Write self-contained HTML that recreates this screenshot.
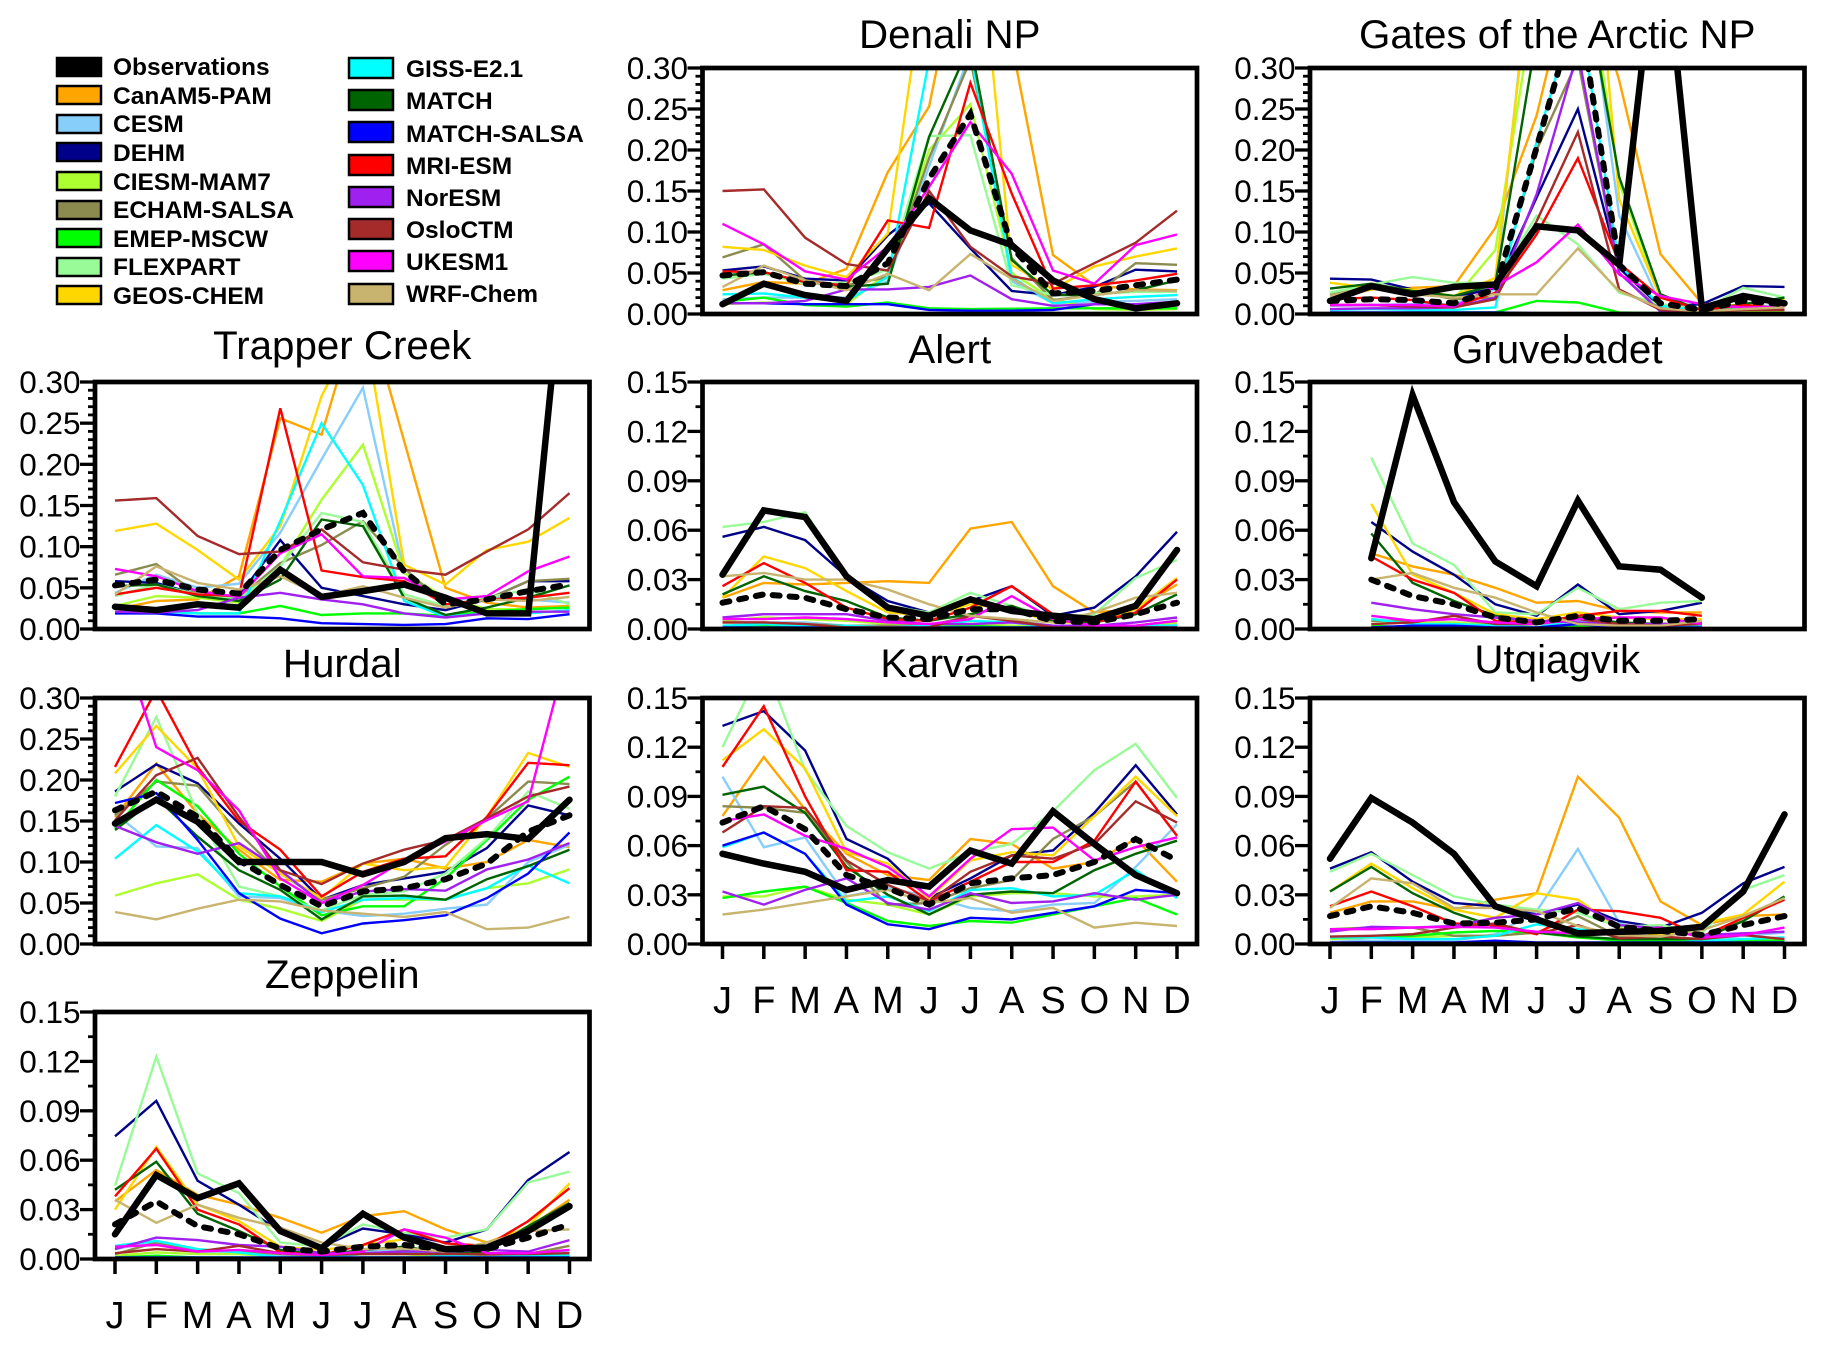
<!DOCTYPE html>
<html lang="en">
<head>
<meta charset="utf-8">
<title>Monthly model and observation comparison by station</title>
<style>
html,body{margin:0;padding:0;background:#fff;width:1825px;height:1348px;overflow:hidden}
svg{display:block}
text{font-family:"Liberation Sans",sans-serif;fill:#000}
.legend-label{font-weight:bold;font-size:24.5px}
.tick-label{font-size:31.5px;text-anchor:end}
.month-label{font-size:38px;text-anchor:middle}
.panel-title{font-size:40.3px;text-anchor:middle}
</style>
</head>
<body>
<svg id="chart" xmlns="http://www.w3.org/2000/svg" width="1825" height="1348" viewBox="0 0 1825 1348">
  <g stroke="#000" stroke-width="2.5">
    <g><rect x="57" y="58" width="44" height="18" fill="#000"/><text class="legend-label" stroke="none" x="113" y="75">Observations</text></g>
    <g><rect x="57" y="86" width="44" height="18" fill="#FFA500"/><text class="legend-label" stroke="none" x="113" y="104">CanAM5-PAM</text></g>
    <g><rect x="57" y="115" width="44" height="18" fill="#87CEFA"/><text class="legend-label" stroke="none" x="113" y="132">CESM</text></g>
    <g><rect x="57" y="143" width="44" height="18" fill="#00008B"/><text class="legend-label" stroke="none" x="113" y="161">DEHM</text></g>
    <g><rect x="57" y="172" width="44" height="18" fill="#ADFF2F"/><text class="legend-label" stroke="none" x="113" y="190">CIESM-MAM7</text></g>
    <g><rect x="57" y="201" width="44" height="18" fill="#8B8B50"/><text class="legend-label" stroke="none" x="113" y="218">ECHAM-SALSA</text></g>
    <g><rect x="57" y="229" width="44" height="18" fill="#00FF00"/><text class="legend-label" stroke="none" x="113" y="247">EMEP-MSCW</text></g>
    <g><rect x="57" y="258" width="44" height="18" fill="#98FB98"/><text class="legend-label" stroke="none" x="113" y="275">FLEXPART</text></g>
    <g><rect x="57" y="286" width="44" height="18" fill="#FFD700"/><text class="legend-label" stroke="none" x="113" y="304">GEOS-CHEM</text></g>
    <g><rect x="349" y="58" width="44" height="20" fill="#00FFFF"/><text class="legend-label" stroke="none" x="406" y="77">GISS-E2.1</text></g>
    <g><rect x="349" y="90" width="44" height="20" fill="#006400"/><text class="legend-label" stroke="none" x="406" y="109">MATCH</text></g>
    <g><rect x="349" y="122" width="44" height="20" fill="#0000FF"/><text class="legend-label" stroke="none" x="406" y="142">MATCH-SALSA</text></g>
    <g><rect x="349" y="155" width="44" height="20" fill="#FF0000"/><text class="legend-label" stroke="none" x="406" y="174">MRI-ESM</text></g>
    <g><rect x="349" y="187" width="44" height="20" fill="#A020F0"/><text class="legend-label" stroke="none" x="406" y="206">NorESM</text></g>
    <g><rect x="349" y="219" width="44" height="20" fill="#A52A2A"/><text class="legend-label" stroke="none" x="406" y="238">OsloCTM</text></g>
    <g><rect x="349" y="251" width="44" height="20" fill="#FF00FF"/><text class="legend-label" stroke="none" x="406" y="270">UKESM1</text></g>
    <g><rect x="349" y="284" width="44" height="20" fill="#C8B46E"/><text class="legend-label" stroke="none" x="406" y="302">WRF-Chem</text></g>
  </g>
</svg>
<script>
const months = ['J','F','M','A','M','J','J','A','S','O','N','D'];
const modelNames = ['CanAM5-PAM','CESM','DEHM','CIESM-MAM7','ECHAM-SALSA','EMEP-MSCW','FLEXPART','GEOS-CHEM','GISS-E2.1','MATCH','MATCH-SALSA','MRI-ESM','NorESM','OsloCTM','UKESM1','WRF-Chem'];
const ticksWide = [0,0.05,0.10,0.15,0.20,0.25,0.30];
const ticksWideLabels = ['0.00','0.05','0.10','0.15','0.20','0.25','0.30'];
const ticksNarrow = [0,0.03,0.06,0.09,0.12,0.15];
const ticksNarrowLabels = ['0.00','0.03','0.06','0.09','0.12','0.15'];

const denaliObs = [.012,.037,.023,.016,.08,.141,.102,.084,.041,.018,.007,.013];
const denaliMean = [.047,.051,.037,.034,.062,.165,.244,.082,.025,.028,.035,.042];
const denaliModels = [
 [.029,.039,.037,.055,.173,.253,.5,.33,.072,.035,.03,.029],
 [.018,.02,.02,.02,.04,.18,.32,.04,.013,.015,.016,.018],
 [.053,.058,.043,.041,.096,.135,.08,.028,.023,.033,.054,.052],
 [.012,.014,.012,.012,.05,.2,.256,.05,.018,.006,.005,.006],
 [.069,.085,.041,.035,.045,.19,.31,.068,.017,.023,.062,.06],
 [.015,.02,.011,.009,.014,.007,.006,.0065,.007,.007,.007,.007],
 [.043,.049,.037,.038,.054,.217,.218,.035,.023,.025,.027,.027],
 [.082,.078,.059,.045,.098,.447,.58,.06,.03,.058,.07,.08],
 [.024,.025,.02,.016,.045,.31,.32,.045,.013,.018,.021,.023],
 [.047,.051,.039,.033,.037,.216,.33,.066,.023,.023,.029,.041],
 [.013,.013,.012,.012,.012,.005,.004,.004,.005,.012,.012,.013],
 [.052,.051,.039,.035,.114,.105,.282,.147,.031,.035,.041,.049],
 [.013,.013,.016,.03,.03,.033,.047,.018,.01,.012,.012,.015],
 [.15,.152,.093,.061,.053,.15,.082,.046,.037,.062,.087,.126],
 [.11,.085,.052,.042,.082,.155,.234,.171,.053,.037,.084,.097],
 [.033,.059,.041,.029,.049,.029,.073,.043,.016,.023,.029,.028]
];

const gatesObs = [.016,.034,.024,.033,.036,.107,.102,.06,.5,.007,.022,.013];
const gatesMean = [.016,.018,.017,.013,.03,.203,.38,.06,.013,.005,.016,.012];
const gatesModels = [
 [.018,.03,.032,.034,.105,.242,.45,.285,.073,.013,.01,.007],
 [.01,.011,.012,.012,.03,.5,.5,.12,.012,.006,.01,.01],
 [.043,.042,.03,.02,.032,.142,.25,.056,.009,.012,.034,.033],
 [.026,.036,.028,.018,.078,.4,.5,.16,.02,.004,.004,.003],
 [.024,.037,.028,.018,.02,.2,.31,.05,.005,.004,.008,.006],
 [.001,.001,.002,.002,.002,.016,.014,.002,.001,.001,.001,.001],
 [.026,.036,.045,.038,.038,.12,.085,.026,.012,.005,.032,.02],
 [.038,.032,.03,.022,.044,.48,.7,.14,.02,.005,.012,.018],
 [.005,.006,.005,.005,.008,.21,.38,.06,.01,.004,.006,.008],
 [.031,.037,.028,.022,.036,.34,.45,.167,.024,.004,.012,.02],
 [.002,.002,.002,.002,.002,.001,.001,.001,.001,.001,.001,.001],
 [.018,.02,.017,.009,.026,.097,.19,.062,.02,.005,.011,.007],
 [.006,.007,.007,.008,.02,.146,.32,.05,.003,.003,.005,.006],
 [.011,.011,.009,.008,.018,.113,.222,.03,.005,.003,.005,.005],
 [.011,.011,.011,.009,.034,.063,.109,.048,.022,.012,.008,.009],
 [.022,.034,.024,.02,.024,.024,.08,.028,.007,.003,.006,.008]
];

const trapperObs = [.027,.023,.03,.026,.072,.039,.046,.054,.038,.019,.019,.52];
const trapperMean = [.053,.06,.048,.043,.096,.121,.141,.07,.03,.036,.046,.054];
const trapperModels = [
 [.024,.034,.036,.064,.256,.236,.406,.228,.05,.032,.026,.028],
 [.044,.066,.05,.055,.117,.206,.293,.068,.034,.04,.036,.032],
 [.058,.056,.042,.04,.108,.05,.04,.03,.023,.036,.058,.058],
 [.028,.04,.038,.032,.076,.157,.224,.068,.038,.024,.024,.026],
 [.066,.079,.042,.038,.08,.102,.131,.074,.028,.036,.058,.061],
 [.02,.022,.019,.019,.028,.017,.019,.019,.016,.021,.024,.026],
 [.04,.054,.042,.036,.076,.141,.13,.042,.028,.038,.048,.03],
 [.119,.128,.096,.06,.125,.283,.38,.078,.054,.096,.106,.135],
 [.02,.021,.019,.019,.131,.25,.175,.034,.015,.019,.019,.023],
 [.052,.054,.04,.034,.06,.133,.125,.038,.017,.026,.038,.053],
 [.019,.019,.015,.015,.013,.007,.006,.005,.006,.013,.012,.018],
 [.042,.05,.042,.04,.268,.071,.063,.058,.03,.036,.038,.044],
 [.021,.02,.023,.038,.044,.036,.03,.019,.014,.019,.021,.021],
 [.156,.159,.113,.091,.094,.121,.081,.072,.066,.094,.121,.165],
 [.073,.064,.046,.039,.092,.115,.064,.062,.036,.04,.07,.088],
 [.042,.076,.056,.048,.064,.04,.052,.038,.026,.036,.034,.039]
];

const alertObs = [.033,.072,.068,.032,.013,.008,.018,.011,.008,.006,.014,.048];
const alertMean = [.016,.021,.019,.012,.007,.006,.012,.012,.005,.004,.009,.016];
const alertModels = [
 [.019,.028,.027,.028,.029,.028,.061,.065,.026,.01,.012,.027],
 [.004,.004,.004,.002,.002,.002,.003,.002,.001,.001,.002,.003],
 [.056,.062,.054,.032,.017,.01,.017,.026,.008,.013,.032,.059],
 [.005,.007,.006,.005,.003,.002,.003,.002,.001,.001,.002,.004],
 [.004,.004,.003,.002,.002,.002,.008,.005,.002,.001,.002,.005],
 [.002,.002,.001,.001,.001,.001,.002,.001,.001,.001,.001,.002],
 [.062,.065,.071,.032,.014,.01,.022,.014,.007,.009,.031,.042],
 [.019,.044,.037,.023,.01,.008,.015,.012,.004,.004,.012,.031],
 [.002,.003,.002,.002,.001,.002,.005,.004,.001,.001,.002,.002],
 [.021,.032,.023,.017,.007,.005,.009,.014,.005,.004,.009,.021],
 [.001,.001,.001,.001,.001,.001,.001,.001,.001,.001,.001,.001],
 [.026,.04,.028,.013,.006,.005,.013,.026,.009,.004,.01,.03],
 [.007,.009,.009,.009,.005,.003,.003,.004,.002,.002,.004,.007],
 [.004,.004,.003,.001,.001,.001,.008,.005,.001,.001,.001,.001],
 [.006,.006,.007,.006,.004,.003,.006,.02,.006,.002,.002,.005],
 [.032,.034,.03,.03,.024,.015,.008,.006,.004,.01,.019,.022]
];

const gruvebadetObs = [null,.043,.142,.077,.041,.026,.078,.038,.036,.019,null,null];
const gruvebadetMean = [null,.03,.02,.015,.007,.004,.008,.005,.005,.006,null,null];
const gruvebadetModels = [
 [null,.046,.038,.033,.025,.016,.017,.011,.01,.01,null,null],
 [null,.006,.004,.004,.002,.001,.005,.002,.002,.002,null,null],
 [null,.065,.047,.033,.015,.008,.027,.009,.011,.016,null,null],
 [null,.005,.004,.004,.002,.001,.003,.002,.002,.002,null,null],
 [null,.005,.005,.006,.003,.001,.001,.002,.001,.003,null,null],
 [null,.002,.001,.002,.001,.001,.002,.001,.001,.001,null,null],
 [null,.104,.052,.039,.01,.009,.025,.012,.016,.017,null,null],
 [null,.076,.033,.022,.009,.006,.01,.007,.006,.006,null,null],
 [null,.006,.003,.003,.002,.001,.006,.003,.002,.002,null,null],
 [null,.058,.028,.017,.008,.004,.007,.004,.003,.004,null,null],
 [null,.001,.002,.002,.001,.001,.003,.001,.001,.001,null,null],
 [null,.044,.03,.022,.005,.004,.008,.011,.011,.008,null,null],
 [null,.016,.012,.009,.007,.005,.004,.003,.003,.004,null,null],
 [null,.003,.004,.008,.003,.003,.006,.003,.002,.003,null,null],
 [null,.008,.005,.006,.004,.003,.006,.007,.007,.003,null,null],
 [null,.03,.034,.025,.019,.01,.003,.002,.002,.005,null,null]
];

const hurdalObs = [.147,.176,.149,.1,.1,.1,.085,.1,.129,.134,.128,.176];
const hurdalMean = [.163,.186,.155,.102,.072,.046,.064,.068,.079,.098,.137,.157];
const hurdalModels = [
 [.155,.22,.159,.115,.078,.076,.098,.104,.092,.1,.127,.118],
 [.159,.119,.117,.058,.056,.041,.034,.037,.043,.048,.1,.121],
 [.186,.219,.196,.147,.104,.054,.072,.08,.088,.117,.169,.157],
 [.059,.074,.085,.054,.043,.028,.054,.054,.054,.068,.074,.091],
 [.157,.198,.193,.135,.086,.054,.068,.082,.121,.153,.198,.195],
 [.141,.2,.168,.11,.07,.035,.046,.046,.08,.127,.176,.204],
 [.18,.277,.159,.07,.058,.041,.06,.064,.086,.129,.186,.165],
 [.208,.266,.214,.119,.086,.056,.098,.09,.094,.155,.233,.216],
 [.104,.145,.113,.062,.058,.039,.054,.056,.054,.068,.096,.074],
 [.139,.178,.131,.09,.066,.03,.058,.059,.054,.079,.095,.115],
 [.172,.184,.127,.062,.031,.013,.025,.029,.035,.056,.086,.136],
 [.216,.31,.216,.15,.115,.058,.088,.104,.107,.155,.221,.218],
 [.144,.124,.11,.123,.09,.05,.064,.067,.065,.091,.103,.123],
 [.151,.206,.227,.155,.09,.073,.098,.115,.127,.153,.18,.192],
 [.395,.24,.212,.163,.08,.05,.072,.102,.125,.151,.174,.366],
 [.039,.03,.043,.054,.052,.041,.037,.033,.039,.018,.02,.033]
];

const karvatnObs = [.055,.049,.044,.033,.039,.035,.057,.049,.081,.061,.042,.031];
const karvatnMean = [.074,.084,.07,.042,.034,.024,.037,.04,.042,.05,.064,.051];
const karvatnModels = [
 [.078,.114,.082,.055,.042,.039,.064,.061,.046,.05,.064,.038],
 [.102,.059,.065,.029,.034,.029,.022,.02,.024,.025,.047,.073],
 [.133,.142,.118,.064,.052,.028,.04,.054,.057,.08,.109,.079],
 [.029,.029,.035,.027,.024,.018,.029,.031,.031,.029,.029,.03],
 [.084,.083,.08,.05,.024,.025,.034,.039,.064,.078,.099,.066],
 [.028,.032,.035,.025,.014,.011,.014,.013,.018,.023,.028,.018],
 [.12,.172,.106,.072,.056,.046,.056,.061,.081,.106,.122,.089],
 [.112,.131,.107,.056,.049,.028,.051,.056,.054,.078,.102,.078],
 [.059,.068,.055,.026,.029,.02,.033,.034,.029,.03,.045,.028],
 [.091,.096,.08,.047,.03,.018,.03,.032,.031,.045,.055,.063],
 [.06,.068,.055,.024,.012,.009,.016,.015,.019,.023,.033,.031],
 [.108,.145,.09,.045,.044,.026,.038,.05,.05,.063,.099,.066],
 [.032,.024,.033,.04,.025,.021,.031,.025,.026,.031,.027,.03],
 [.068,.084,.083,.051,.036,.026,.044,.054,.052,.061,.087,.074],
 [.075,.079,.066,.058,.047,.029,.052,.07,.071,.051,.059,.065],
 [.018,.021,.025,.029,.033,.025,.028,.019,.022,.01,.013,.011]
];

const utqiagvikObs = [.052,.089,.074,.055,.023,.015,.0065,.0075,.008,.0105,.032,.079];
const utqiagvikMean = [.017,.023,.019,.0125,.013,.015,.022,.0105,.008,.0055,.0115,.017];
const utqiagvikModels = [
 [.019,.026,.026,.021,.027,.031,.102,.077,.026,.0115,.017,.018],
 [.003,.002,.002,.002,.006,.02,.058,.013,.004,.002,.005,.007],
 [.046,.056,.038,.025,.023,.018,.024,.014,.01,.019,.037,.047],
 [.003,.004,.004,.005,.005,.007,.004,.003,.002,.002,.003,.003],
 [.009,.01,.01,.005,.005,.007,.017,.0045,.003,.003,.016,.028],
 [.004,.004,.005,.007,.008,.007,.004,.002,.002,.002,.002,.002],
 [.044,.055,.042,.029,.024,.021,.019,.0105,.0115,.0065,.033,.042],
 [.032,.049,.034,.021,.016,.031,.027,.0095,.005,.0125,.018,.038],
 [.004,.004,.003,.003,.005,.012,.009,.006,.004,.002,.003,.004],
 [.032,.047,.031,.019,.0105,.007,.0045,.003,.003,.003,.014,.029],
 [.001,.001,.001,.001,.002,.001,.001,.001,.001,.001,.001,.001],
 [.023,.032,.023,.0125,.0115,.006,.021,.02,.016,.0045,.016,.027],
 [.0075,.0105,.01,.011,.016,.018,.025,.0115,.0095,.0055,.0065,.0075],
 [.0045,.005,.006,.01,.0125,.0065,.0115,.0035,.0045,.003,.0055,.003],
 [.009,.009,.01,.0105,.01,.0075,.0065,.0075,.01,.004,.0055,.01],
 [.022,.04,.037,.022,.022,.02,.011,.0055,.0045,.0085,.017,.028]
];

const zeppelinObs = [.015,.051,.037,.046,.017,.0065,.0275,.013,.006,.007,.017,.032];
const zeppelinMean = [.021,.035,.02,.015,.0065,.0045,.0075,.0085,.006,.006,.013,.021];
const zeppelinModels = [
 [.035,.054,.039,.033,.025,.016,.026,.029,.018,.01,.019,.036],
 [.006,.011,.004,.004,.002,.002,.005,.006,.003,.001,.003,.004],
 [.0745,.096,.0475,.033,.017,.0075,.0185,.015,.01,.018,.048,.065],
 [.002,.004,.003,.003,.001,.001,.003,.003,.001,.001,.002,.002],
 [.003,.01,.005,.005,.003,.002,.003,.005,.002,.002,.003,.008],
 [.001,.002,.001,.001,0,0,.001,.001,.001,.001,.001,.001],
 [.0445,.123,.052,.04,.01,.0075,.021,.016,.013,.018,.0465,.053],
 [.03,.068,.033,.023,.0075,.0055,.0085,.012,.0065,.0075,.02,.046],
 [.008,.011,.006,.004,.001,.001,.003,.004,.002,.001,.002,.002],
 [.042,.059,.0275,.017,.0055,.0025,.0055,.0075,.0035,.0045,.02,.034],
 [.001,.001,.001,.001,.001,.001,.001,.001,.001,.001,.001,.001],
 [.038,.067,.03,.021,.004,.0025,.0085,.018,.0095,.008,.023,.043],
 [.006,.013,.0115,.0085,.0075,.0035,.0035,.0045,.0045,.0055,.0045,.0115],
 [.0035,.006,.0045,.008,.0035,.0025,.003,.003,.003,.003,.003,.0035],
 [.0075,.0085,.0045,.0055,.0035,.0025,.0045,.018,.013,.0035,.0035,.0055],
 [.036,.022,.033,.025,.019,.01,.006,.0065,.0045,.01,.017,.018]
];

const modelColor = {'CanAM5-PAM':'#FFA500','CESM':'#87CEFA','DEHM':'#00008B','CIESM-MAM7':'#ADFF2F','ECHAM-SALSA':'#8B8B50','EMEP-MSCW':'#00FF00','FLEXPART':'#98FB98','GEOS-CHEM':'#FFD700','GISS-E2.1':'#00FFFF','MATCH':'#006400','MATCH-SALSA':'#0000FF','MRI-ESM':'#FF0000','NorESM':'#A020F0','OsloCTM':'#A52A2A','UKESM1':'#FF00FF','WRF-Chem':'#C8B46E'};

const panels = [
 {id:'denali',title:'Denali NP',titleY:48,x0:702.5,x1:1197,y0:68,y1:314,ticks:ticksWide,labels:ticksWideLabels,minor:0.01,months:false,obs:denaliObs,mean:denaliMean,models:denaliModels},
 {id:'gates',title:'Gates of the Arctic NP',titleY:48,x0:1310,x1:1804.5,y0:68,y1:314,ticks:ticksWide,labels:ticksWideLabels,minor:0.01,months:false,obs:gatesObs,mean:gatesMean,models:gatesModels},
 {id:'trapper',title:'Trapper Creek',titleY:359,x0:95,x1:589.5,y0:382,y1:629,ticks:ticksWide,labels:ticksWideLabels,minor:0.01,months:false,obs:trapperObs,mean:trapperMean,models:trapperModels},
 {id:'alert',title:'Alert',titleY:363,x0:702.5,x1:1197,y0:382,y1:629,ticks:ticksNarrow,labels:ticksNarrowLabels,minor:0.015,months:false,obs:alertObs,mean:alertMean,models:alertModels},
 {id:'gruvebadet',title:'Gruvebadet',titleY:363,x0:1310,x1:1804.5,y0:382,y1:629,ticks:ticksNarrow,labels:ticksNarrowLabels,minor:0.015,months:false,obs:gruvebadetObs,mean:gruvebadetMean,models:gruvebadetModels},
 {id:'hurdal',title:'Hurdal',titleY:677,x0:95,x1:589.5,y0:698,y1:944,ticks:ticksWide,labels:ticksWideLabels,minor:0.01,months:false,obs:hurdalObs,mean:hurdalMean,models:hurdalModels},
 {id:'karvatn',title:'Karvatn',titleY:677,x0:702.5,x1:1197,y0:698,y1:944,ticks:ticksNarrow,labels:ticksNarrowLabels,minor:0.015,months:true,monthY:1013,obs:karvatnObs,mean:karvatnMean,models:karvatnModels},
 {id:'utqiagvik',title:'Utqiagvik',titleY:673,x0:1310,x1:1804.5,y0:698,y1:944,ticks:ticksNarrow,labels:ticksNarrowLabels,minor:0.015,months:true,monthY:1013,obs:utqiagvikObs,mean:utqiagvikMean,models:utqiagvikModels},
 {id:'zeppelin',title:'Zeppelin',titleY:988,x0:95,x1:589.5,y0:1012,y1:1259,ticks:ticksNarrow,labels:ticksNarrowLabels,minor:0.015,months:true,monthY:1328,obs:zeppelinObs,mean:zeppelinMean,models:zeppelinModels}
];

const NS = 'http://www.w3.org/2000/svg';
const svg = document.getElementById('chart');

function make(tag, attrs, parent) {
  const el = document.createElementNS(NS, tag);
  for (const k in attrs) el.setAttribute(k, attrs[k]);
  parent.appendChild(el);
  return el;
}
function xScale(p, i) {
  return p.x0 + 20 + i * (p.x1 - p.x0 - 40) / 11;
}
function yScale(p, v) {
  const max = p.ticks[p.ticks.length - 1];
  return p.y1 - (v / max) * (p.y1 - p.y0);
}
function linePath(p, values) {
  let d = '';
  let pen = false;
  values.forEach(function (v, i) {
    if (v === null) { pen = false; return; }
    d += (pen ? 'L' : 'M') + xScale(p, i).toFixed(1) + ' ' + yScale(p, v).toFixed(1);
    pen = true;
  });
  return d;
}

panels.forEach(function (p) {
  const g = make('g', {}, svg);
  
  

  const title = make('text', {class: 'panel-title', x: (p.x0 + p.x1) / 2, y: p.titleY}, g);
  title.textContent = p.title;
  
  

  const clip = make('clipPath', {id: 'clip-' + p.id}, g);
  make('rect', {x: p.x0, y: p.y0 - 2, width: p.x1 - p.x0, height: p.y1 - p.y0 + 2}, clip);

  const lines = make('g', {'clip-path': 'url(#clip-' + p.id + ')', fill: 'none', 'stroke-linejoin': 'miter'}, g);
  
  

  p.models.forEach(function (values, m) {
    const path = make('path', {d: linePath(p, values), stroke: modelColor[modelNames[m]], 'stroke-width': 2.4}, lines);
    
    
  });

  const meanLine = make('path', {d: linePath(p, p.mean), stroke: '#000', 'stroke-width': 6, 'stroke-dasharray': '7 10', 'stroke-linecap': 'round'}, lines);
  
  

  const obsLine = make('path', {d: linePath(p, p.obs), stroke: '#000', 'stroke-width': 6.5, 'stroke-linecap': 'round'}, lines);
  
  

  const axis = make('g', {stroke: '#000'}, g);
  
  
  const top = p.ticks[p.ticks.length - 1];
  const minorCount = Math.round(top / p.minor);
  for (let k = 0; k <= minorCount; k++) {
    const y = yScale(p, k * p.minor);
    make('line', {x1: p.x0 - 7, x2: p.x0, y1: y, y2: y, 'stroke-width': 2.8}, axis);
  }
  p.ticks.forEach(function (v, k) {
    const y = yScale(p, v);
    make('line', {x1: p.x0 - 15, x2: p.x0, y1: y, y2: y, 'stroke-width': 3.3}, axis);
    const t = make('text', {class: 'tick-label', x: p.x0 - 14.5, y: y + 11, stroke: 'none'}, axis);
    t.textContent = p.labels[k];
    
    
  });

  if (p.months) {
    const xAxis = make('g', {stroke: '#000'}, g);
    
    
    months.forEach(function (mo, i) {
      const x = xScale(p, i);
      make('line', {x1: x, x2: x, y1: p.y1, y2: p.y1 + 15, 'stroke-width': 3.5}, xAxis);
      const t = make('text', {class: 'month-label', x: x, y: p.monthY, stroke: 'none'}, xAxis);
      t.textContent = mo;
      
      
    });
  }

  const frame = make('rect', {x: p.x0, y: p.y0, width: p.x1 - p.x0, height: p.y1 - p.y0, fill: 'none', stroke: '#000', 'stroke-width': 4.7}, g);
  
  
});
</script>
</body>
</html>
